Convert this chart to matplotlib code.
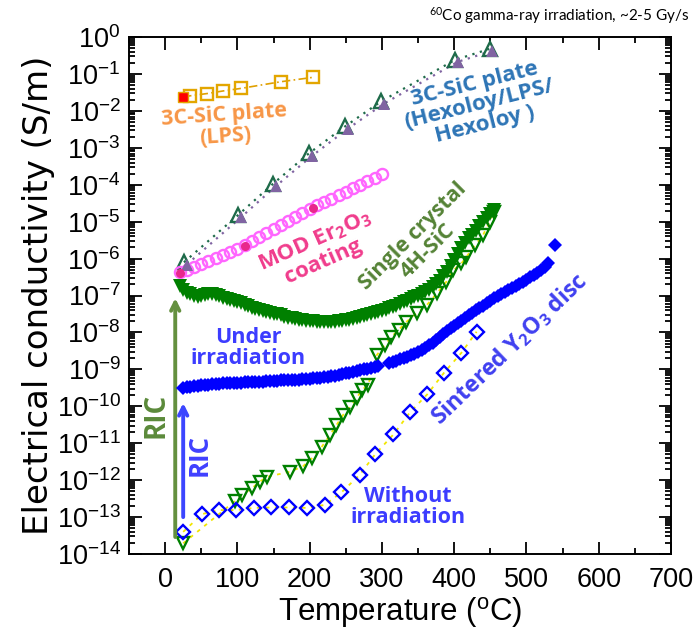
import numpy as np
import matplotlib
matplotlib.use("Agg")
import matplotlib.pyplot as plt
from matplotlib import font_manager
from matplotlib.ticker import LogLocator, MultipleLocator, NullFormatter

# All conductivities are stored as log10(S/m).

# ---- 3C-SiC plate (LPS) ----
lps_t = [35, 58, 80, 105, 160, 205]
lps_log = [-1.59, -1.53, -1.46, -1.39, -1.21, -1.09]
lps_rt_t = [25]
lps_rt_log = [-1.62]

# ---- 3C-SiC plate (Hexoloy/LPS/Hexoloy), two runs ----
hex_a_t = [30, 105, 153, 203, 253, 303, 405, 453]
hex_a_log = [-6.16, -4.88, -4.04, -3.22, -2.48, -1.80, -0.67, -0.37]
hex_b_t = [26, 101, 149, 199, 249, 299, 401, 449]
hex_b_log = [-6.10, -4.82, -3.98, -3.15, -2.42, -1.74, -0.62, -0.32]

# ---- MOD Er2O3 coating ----
er_t = [20, 30, 40, 50, 60, 70, 80, 90, 100, 110, 120, 130, 140, 150, 160,
        170, 180, 190, 200, 210, 220, 230, 240, 250, 260, 270, 280, 290, 300]
er_log = [-6.36, -6.30, -6.22, -6.14, -6.06, -5.98, -5.90, -5.81, -5.73,
          -5.64, -5.53, -5.42, -5.31, -5.20, -5.09, -4.98, -4.87, -4.76,
          -4.66, -4.56, -4.47, -4.38, -4.29, -4.19, -4.10, -4.00, -3.91,
          -3.81, -3.72]
er_dot_t = [20, 110, 204]
er_dot_log = [-6.38, -5.65, -4.62]

# ---- single crystal 4H-SiC, under irradiation ----
sc_irr_t = [20, 25, 30, 35, 40, 45, 50, 55, 60, 65, 70, 75, 80, 85, 90, 95,
            100, 105, 110, 115, 120, 125, 130, 135, 140, 145, 150, 155, 160,
            165, 170, 175, 180, 185, 190, 195, 200, 205, 210, 215, 220, 225,
            230, 235, 240, 245, 250, 255, 260, 265, 270, 275, 280, 285, 290,
            295, 300, 305, 310, 315, 320, 325, 330, 335, 340, 345, 350, 355,
            360, 365, 370, 375, 380, 385, 390, 395, 400, 405, 410, 415, 420,
            425, 430, 435, 440, 445, 450, 455]
sc_irr_log = [-6.75, -6.85, -6.92, -6.97, -7.00, -7.03, -7.02, -6.98, -6.96,
              -6.96, -6.98, -7.02, -7.06, -7.10, -7.13, -7.16, -7.18, -7.21,
              -7.25, -7.29, -7.33, -7.37, -7.40, -7.43, -7.45, -7.47, -7.49,
              -7.51, -7.54, -7.57, -7.60, -7.62, -7.64, -7.66, -7.67, -7.68,
              -7.69, -7.70, -7.71, -7.72, -7.72, -7.72, -7.71, -7.71, -7.70,
              -7.69, -7.67, -7.65, -7.63, -7.61, -7.58, -7.56, -7.53, -7.50,
              -7.48, -7.45, -7.42, -7.39, -7.35, -7.32, -7.28, -7.23, -7.18,
              -7.14, -7.10, -7.05, -7.00, -6.95, -6.90, -6.84, -6.78, -6.70,
              -6.60, -6.48, -6.35, -6.20, -6.05, -5.88, -5.70, -5.57, -5.45,
              -5.35, -5.25, -5.12, -5.00, -4.90, -4.80, -4.68]

# ---- single crystal 4H-SiC, without irradiation ----
sc_dark_t = [25, 97, 106, 120, 131, 141, 173, 191, 203, 217, 228, 237, 246,
             256, 265, 272, 281, 293, 304, 313, 323, 334, 348, 362, 376, 389,
             399, 410, 417, 429, 440, 449, 455]
sc_dark_log = [-13.71, -12.56, -12.40, -12.22, -12.04, -11.91, -11.77, -11.62,
               -11.41, -11.09, -10.78, -10.51, -10.24, -10.01, -9.78, -9.56,
               -9.42, -8.61, -8.34, -8.12, -7.93, -7.71, -7.48, -7.26, -6.94,
               -6.63, -6.31, -6.13, -5.95, -5.63, -5.36, -5.00, -4.74]

# ---- sintered Y2O3 disc, under irradiation ----
y2o3_irr_t = [25, 30, 35, 40, 45, 50, 55, 60, 65, 70, 75, 80, 85, 90, 95,
              100, 105, 110, 115, 120, 125, 130, 135, 140, 145, 150, 155, 160,
              165, 170, 175, 180, 185, 190, 195, 200, 205, 210, 215, 220, 225,
              230, 235, 240, 245, 250, 255, 260, 265, 270, 275, 280, 285, 290,
              295, 310, 315, 320, 325, 330, 335, 340, 345, 350, 355, 360, 365,
              370, 375, 380, 385, 390, 395, 400, 405, 410, 415, 420, 425, 430,
              435, 440, 445, 450, 455, 460, 465, 470, 475, 480, 485, 490, 495,
              500, 505, 510, 515, 520, 525, 530, 540]
y2o3_irr_log = [-9.51, -9.49, -9.47, -9.46, -9.44, -9.43, -9.42, -9.41, -9.40,
                -9.40, -9.39, -9.38, -9.38, -9.37, -9.37, -9.36, -9.36, -9.35,
                -9.35, -9.34, -9.34, -9.33, -9.33, -9.32, -9.32, -9.31, -9.31,
                -9.30, -9.30, -9.29, -9.29, -9.28, -9.28, -9.27, -9.26, -9.25,
                -9.24, -9.23, -9.22, -9.21, -9.20, -9.18, -9.17, -9.15, -9.13,
                -9.11, -9.09, -9.07, -9.05, -9.03, -9.00, -8.98, -8.96, -8.93,
                -8.91, -8.82, -8.79, -8.76, -8.73, -8.69, -8.66, -8.62, -8.58,
                -8.53, -8.48, -8.42, -8.35, -8.28, -8.20, -8.12, -8.04, -7.96,
                -7.89, -7.82, -7.75, -7.68, -7.61, -7.54, -7.47, -7.40, -7.34,
                -7.27, -7.20, -7.14, -7.07, -7.01, -6.95, -6.90, -6.85, -6.79,
                -6.74, -6.68, -6.63, -6.57, -6.51, -6.45, -6.38, -6.30, -6.22,
                -6.13, -5.63]

# ---- sintered Y2O3 disc, without irradiation ----
y2o3_dark_t = [25, 51, 74, 98, 123, 147, 172, 196, 221, 244, 269, 291, 316,
               339, 363, 386, 410, 431]
y2o3_dark_log = [-13.40, -12.92, -12.81, -12.81, -12.75, -12.74, -12.74,
                 -12.75, -12.67, -12.33, -11.86, -11.29, -10.76, -10.16, -9.67,
                 -9.09, -8.55, -7.98]

# radiation induced conductivity arrows: (temperature, log start, log end)
ric_sc = (14, -13.54, -7.07)
ric_y2o3 = (25, -13.0, -9.91)


def s(vals):
    return np.power(10.0, vals)


names = {f.name for f in font_manager.fontManager.ttflist}
if 'Liberation Sans Narrow' in names:
    tick_font, tick_size = 'Liberation Sans Narrow', 22
else:
    tick_font, tick_size = 'Liberation Sans', 19.5

plt.rcParams['font.family'] = [tick_font, 'DejaVu Sans']
plt.rcParams['mathtext.fontset'] = 'custom'
plt.rcParams['mathtext.rm'] = tick_font
plt.rcParams['mathtext.it'] = tick_font

fig = plt.figure(figsize=(6.98, 6.39), dpi=100)
ax = fig.add_axes([0.1848, 0.133, 0.7765, 0.809])
ax.set_yscale('log')

YEL = '#f2e600'
hollow = dict(markerfacecolor='none', markeredgewidth=1.7)

# LPS
ax.plot(lps_rt_t + lps_t, s(lps_rt_log + lps_log), color='#e0a000', lw=1.2,
        ls=(0, (5, 2, 1, 2)), zorder=2)
ax.plot(lps_t, s(lps_log), 's', ms=8, markeredgecolor='#e3a600', zorder=3, **hollow)
ax.plot(lps_rt_t, s(lps_rt_log), 's', ms=7.5, color='#ff0000',
        markeredgecolor='#e3a600', markeredgewidth=1, zorder=4)

# Hexoloy/LPS/Hexoloy
ax.plot(hex_b_t, s(hex_b_log), color='#1e6b4a', lw=1.6, ls=(0, (1, 2.5)), zorder=2)
ax.plot(hex_a_t, s(hex_a_log), color='#8064a2', lw=1.6, ls=(0, (1, 2.5)), zorder=2)
ax.plot(hex_b_t, s(hex_b_log), '^', ms=10, markeredgecolor='#1e6b4a', zorder=3, **hollow)
ax.plot(hex_a_t, s(hex_a_log), '^', ms=9, color='#8064a2', markeredgewidth=0, zorder=4)

# Er2O3 coating
ax.plot(er_t, s(er_log), 'o', ms=8, markeredgecolor='#ff66ff', zorder=3, **hollow)
ax.plot(er_dot_t, s(er_dot_log), 'o', ms=6.5, color='#e8288c', markeredgewidth=0, zorder=4)

# 4H-SiC
ax.plot(sc_dark_t, s(sc_dark_log), color=YEL, lw=1.3, ls=(0, (2, 3)), zorder=2)
ax.plot(sc_dark_t, s(sc_dark_log), 'v', ms=9, markeredgecolor='#008000', zorder=3, **hollow)
ax.plot(sc_irr_t, s(sc_irr_log), color=YEL, lw=1.3, ls=(0, (2, 3)), zorder=2)
ax.plot(sc_irr_t, s(sc_irr_log), 'v', ms=10, color='#008000', markeredgewidth=0, zorder=4)

# Y2O3 disc
ax.plot(y2o3_dark_t, s(y2o3_dark_log), color=YEL, lw=1.3, ls=(0, (2, 3)), zorder=2)
ax.plot(y2o3_dark_t, s(y2o3_dark_log), 'D', ms=7.5, markeredgecolor='#0000ff',
        zorder=3, **hollow)
ax.plot(y2o3_irr_t, s(y2o3_irr_log), 'D', ms=7.5, color='#0000ff',
        markeredgewidth=0, zorder=4)

# RIC arrows
for (t, l0, l1), col in [(ric_sc, '#64903f'), (ric_y2o3, '#3c46ff')]:
    ax.annotate('', xy=(t, 10 ** l1), xytext=(t, 10 ** l0),
                arrowprops=dict(arrowstyle='->', color=col, lw=2.8,
                                mutation_scale=15, shrinkA=0, shrinkB=0))

ax.set_xlim(-50, 700)
ax.set_ylim(1e-14, 1)
ax.xaxis.set_major_locator(MultipleLocator(100))
ax.xaxis.set_minor_locator(MultipleLocator(50))
ax.yaxis.set_major_locator(LogLocator(base=10, numticks=20))
ax.yaxis.set_minor_locator(LogLocator(base=10, subs=np.arange(2, 10), numticks=20))
ax.yaxis.set_minor_formatter(NullFormatter())
ax.tick_params(which='both', direction='in', top=True, right=True, width=1.3)
ax.tick_params(which='major', length=9, labelsize=tick_size)
ax.tick_params(axis='x', which='major', pad=9)
ax.tick_params(axis='y', which='major', pad=6)
ax.tick_params(which='minor', length=4.5)
for sp in ax.spines.values():
    sp.set_linewidth(1.4)

ax.set_xlabel('Temperature ($\\mathregular{^o}$C)', fontsize=22.5,
              family=['Liberation Sans', 'DejaVu Sans'], labelpad=2)
ax.set_ylabel('Electrical conductivity (S/m)', fontsize=24.5,
              family=['DejaVu Sans'], labelpad=1)

# annotations
lab = dict(family=['Open Sans', 'DejaVu Sans'], fontweight='bold', ha='center',
           va='center', multialignment='center')
fig.text(0.988, 0.975, '$\\mathregular{^{60}}$Co gamma-ray irradiation, ~2-5 Gy/s',
         ha='right', va='center', fontsize=11, family=['Lato', 'DejaVu Sans'])
ax.text(82, 3.9e-3, '3C-SiC plate\n(LPS)', color='#f79646', fontsize=15.5,
        rotation=4, linespacing=1.0, **lab)
ax.text(435, 1.5e-2, '3C-SiC plate\n(Hexoloy/LPS/\nHexoloy )', color='#2e75b6',
        fontsize=16, rotation=14, linespacing=1.0, **lab)
ax.text(213, 1.6e-6, 'MOD Er$_\\mathregular{2}$O$_\\mathregular{3}$\ncoating',
        color='#f03c8c', fontsize=16, rotation=24, linespacing=1.0, **lab)
ax.text(353, 2.5e-6, 'Single crystal\n4H-SiC', color='#548235', fontsize=15.5,
        rotation=45, linespacing=1.0, **lab)
ax.text(115, 3.8e-9, 'Under\nirradiation', color='#3c3cff', fontsize=15.5,
        linespacing=1.0, **lab)
ax.text(477, 3.5e-9, 'Sintered Y$_\\mathregular{2}$O$_\\mathregular{3}$ disc',
        color='#4040f0', fontsize=16.5, rotation=44, **lab)
ax.text(336, 1.86e-13, 'Without\nirradiation', color='#3c3cff', fontsize=15.5,
        linespacing=1.0, **lab)
ax.text(-12, 5.7e-11, 'RIC', color='#5b8a3a', fontsize=20, rotation=90, **lab)
ax.text(47, 4.8e-12, 'RIC', color='#4040ff', fontsize=18.5, rotation=90, **lab)

fig.savefig('out.png', dpi=100)
